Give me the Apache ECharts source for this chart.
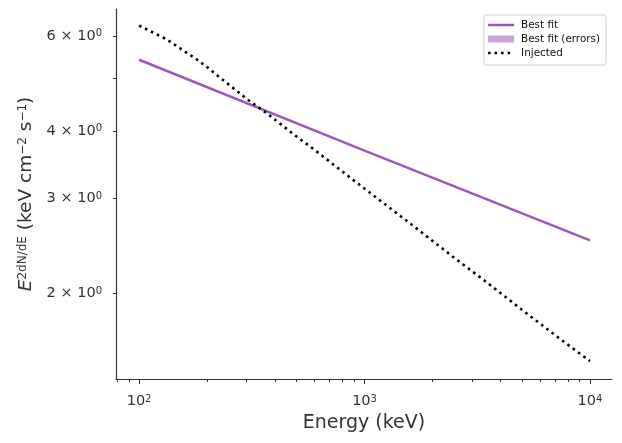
<!DOCTYPE html>
<html>
<head>
<meta charset="utf-8">
<script src="https://cdn.jsdelivr.net/npm/echarts@6/dist/echarts.min.js"></script>
<style>
  html, body { margin: 0; padding: 0; background: #fff; }
  #chart { width: 622px; height: 443px; }
</style>
</head>
<body>
<div id="chart"></div>
<script>
// best fit power law
const fitEnergy = [100, 1000, 10000]
const fitFlux = [5.42, 3.68, 2.51]

// injected spectrum (dotted)
const injEnergy = [100, 132, 181, 202, 229, 304, 370, 468, 528, 591, 897, 1626, 2468, 3530, 5048, 7210, 10000]
const injFlux = [6.27, 5.92, 5.42, 5.24, 5.02, 4.57, 4.31, 3.99, 3.84, 3.71, 3.24, 2.68, 2.34, 2.09, 1.86, 1.66, 1.50]

// ticks
const xMajorTicks = [100, 1000, 10000]
const xMinorTicks = [80, 90, 200, 300, 400, 500, 600, 700, 800, 900, 2000, 3000, 4000, 5000, 6000, 7000, 8000, 9000]
const yTicks = [2, 3, 4, 5, 6]
const yLabelTicks = [2, 3, 4, 6]

const font = 'DejaVu Sans'
const txt = '#333'
const noSymbol = { color: 'rgba(0,0,0,0)', borderWidth: 0 }
const supRich = { s: { fontFamily: font, fontSize: 10, color: txt, verticalAlign: 'top', lineHeight: 12 } }

const chart = echarts.init(document.getElementById('chart'))

const xRange = { min: 79, max: 12520 }

chart.setOption({
  animation: false,
  grid: { left: 116, right: 10, top: 9, bottom: 64, containLabel: false },
  legend: {
    orient: 'vertical',
    right: 16,
    top: 15,
    padding: [5, 6, 7, 3],
    itemGap: 4,
    itemWidth: 26,
    itemHeight: 7,
    borderColor: '#d0d0d0',
    borderWidth: 1,
    borderRadius: 3,
    backgroundColor: '#fff',
    textStyle: { fontFamily: font, fontSize: 10.4, color: '#111', padding: [0, 0, 0, 2] },
    data: [
      { name: 'Best fit', itemStyle: noSymbol, lineStyle: { width: 2.5 } },
      { name: 'Best fit (errors)', icon: 'rect' },
      { name: 'Injected', itemStyle: noSymbol, lineStyle: { width: 2.5, type: [2.5, 4] } }
    ]
  },
  xAxis: [{
    type: 'log',
    logBase: 10,
    min: xRange.min,
    max: xRange.max,
    name: 'Energy (keV)',
    nameLocation: 'middle',
    nameGap: 35,
    nameTextStyle: { fontFamily: font, fontSize: 19, color: txt },
    axisLine: { show: true, lineStyle: { color: '#333', width: 1.2 } },
    axisTick: { show: true, customValues: xMajorTicks, length: 5, lineStyle: { color: '#333' } },
    axisLabel: {
      customValues: xMajorTicks,
      margin: 15,
      fontFamily: font,
      fontSize: 14.5,
      color: txt,
      rich: supRich,
      formatter: v => '10{s|' + Math.round(Math.log10(v)) + '}'
    },
    splitLine: { show: false },
    minorTick: { show: false }
  }, {
    type: 'log',
    logBase: 10,
    min: xRange.min,
    max: xRange.max,
    position: 'bottom',
    axisLine: { show: false },
    axisTick: { show: true, customValues: xMinorTicks, length: 3, lineStyle: { color: '#333' } },
    axisLabel: { show: false },
    splitLine: { show: false }
  }],
  yAxis: {
    type: 'log',
    logBase: 10,
    min: 1.39,
    max: 6.73,
    name: '{i|E}{s|2dN/dE} (keV cm{s|−2} s{s|−1})',
    nameLocation: 'middle',
    nameGap: 80,
    nameTextStyle: {
      fontFamily: font,
      fontSize: 18.5,
      color: txt,
      rich: {
        i: { fontFamily: font, fontSize: 18.5, fontStyle: 'italic', color: txt },
        s: { fontFamily: font, fontSize: 12, color: txt, verticalAlign: 'top' }
      }
    },
    axisLine: { show: true, lineStyle: { color: '#333', width: 1.2 } },
    axisTick: { show: true, customValues: yTicks, length: 3, lineStyle: { color: '#333' } },
    axisLabel: {
      customValues: yLabelTicks,
      margin: 14,
      fontFamily: font,
      fontSize: 14.5,
      color: txt,
      rich: supRich,
      formatter: v => v + ' × 10{s|0}'
    },
    splitLine: { show: false }
  },
  series: [{
    name: 'Best fit',
    type: 'line',
    symbol: 'none',
    color: '#9b59b6',
    lineStyle: { width: 2.5, color: '#9b59b6' },
    data: fitEnergy.map((e, i) => [e, fitFlux[i]]),
    z: 3
  }, {
    name: 'Best fit (errors)',
    type: 'line',
    symbol: 'none',
    color: '#cba4dc',
    data: []
  }, {
    name: 'Injected',
    type: 'line',
    symbol: 'none',
    color: '#000',
    lineStyle: { width: 2.6, color: '#000', type: [2.6, 4] },
    data: injEnergy.map((e, i) => [e, injFlux[i]]),
    z: 4
  }]
})
</script>
</body>
</html>
